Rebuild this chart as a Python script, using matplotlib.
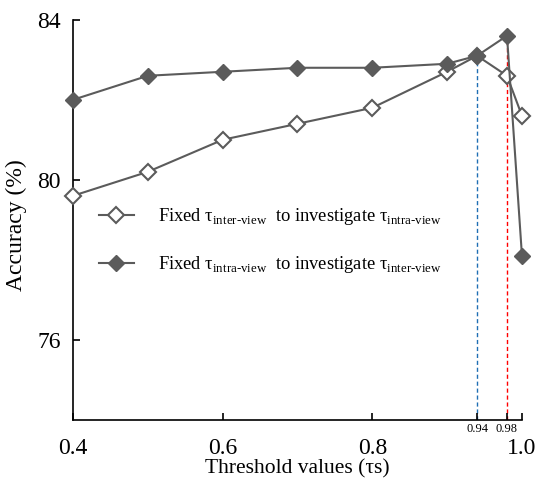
import numpy as np
from matplotlib import pyplot as plt
from matplotlib.ticker import FixedLocator

plt.rcParams['font.family'] = 'Liberation Serif'
plt.rcParams['mathtext.fontset'] = 'custom'
plt.rcParams['mathtext.rm'] = 'Liberation Serif'

thresholds = [0.4, 0.5, 0.6, 0.7, 0.8, 0.9, 0.94, 0.98, 1.0]
# Fixed tau_inter-view, investigating tau_intra-view (open diamonds)
accIntra = [79.6, 80.2, 81.0, 81.4, 81.8, 82.7, 83.1, 82.6, 81.6]
# Fixed tau_intra-view, investigating tau_inter-view (filled diamonds)
accInter = [82.0, 82.6, 82.7, 82.8, 82.8, 82.9, 83.1, 83.6, 78.1]

bestIntra = 0.94
bestInter = 0.98
majorTicks = [0.4, 0.6, 0.8, 1.0]
yTicks = [76, 80, 84]

grey = '#5b5b5b'

fig = plt.figure(figsize=(5.37, 4.82), dpi=100)
ax = fig.add_axes([0.136, 0.129, 0.836, 0.83])

ax.plot(thresholds, accIntra, '-D', color=grey, lw=1.5, ms=8.5, mfc='white', mec=grey, mew=1.5,
        clip_on=False, zorder=3,
        label='Fixed τ$_{\\mathrm{inter\\text{-}view}}$  to investigate τ$_{\\mathrm{intra\\text{-}view}}$')
ax.plot(thresholds, accInter, '-D', color=grey, lw=1.5, ms=8.5, mfc=grey, mec=grey,
        clip_on=False, zorder=4,
        label='Fixed τ$_{\\mathrm{intra\\text{-}view}}$  to investigate τ$_{\\mathrm{inter\\text{-}view}}$')

# dashed markers for best thresholds
ax.plot([bestIntra, bestIntra], [74, accIntra[thresholds.index(bestIntra)]], color='#1f6fb4', lw=1,
        dashes=(3, 2), zorder=1)
ax.plot([bestInter, bestInter], [74, accInter[thresholds.index(bestInter)]], color='red', lw=1,
        dashes=(3, 2), zorder=1)

ax.set_xlim(0.4, 1.0)
ax.set_ylim(74, 84)
ax.spines['top'].set_visible(False)
ax.spines['right'].set_visible(False)
ax.spines['left'].set_linewidth(1.2)
ax.spines['bottom'].set_linewidth(1.2)

ax.set_xticks(majorTicks)
ax.set_xticklabels(['0.4', '0.6', '0.8', '1.0'])
ax.xaxis.set_minor_locator(FixedLocator([bestIntra, bestInter]))
ax.set_xticklabels([str(bestIntra), str(bestInter)], minor=True, fontsize=9)
ax.set_yticks(yTicks)
ax.tick_params(axis='both', which='major', direction='in', labelsize=17, length=5, width=1.2)
ax.tick_params(axis='x', which='major', pad=13)
ax.tick_params(axis='y', which='major', pad=9)
ax.tick_params(axis='x', which='minor', direction='in', length=5, width=1.2, pad=2)

ax.set_xlabel('Threshold values (τs)', fontsize=15.5, labelpad=0)
ax.set_ylabel('Accuracy (%)', fontsize=17)
ax.yaxis.set_label_coords(-0.102, 0.4875)

ax.legend(loc='upper left', bbox_to_anchor=(0.02, 0.575), frameon=False, fontsize=13.3,
          handlelength=1.9, labelspacing=1.45, handletextpad=1.3)

plt.savefig('out.png', dpi=100)
